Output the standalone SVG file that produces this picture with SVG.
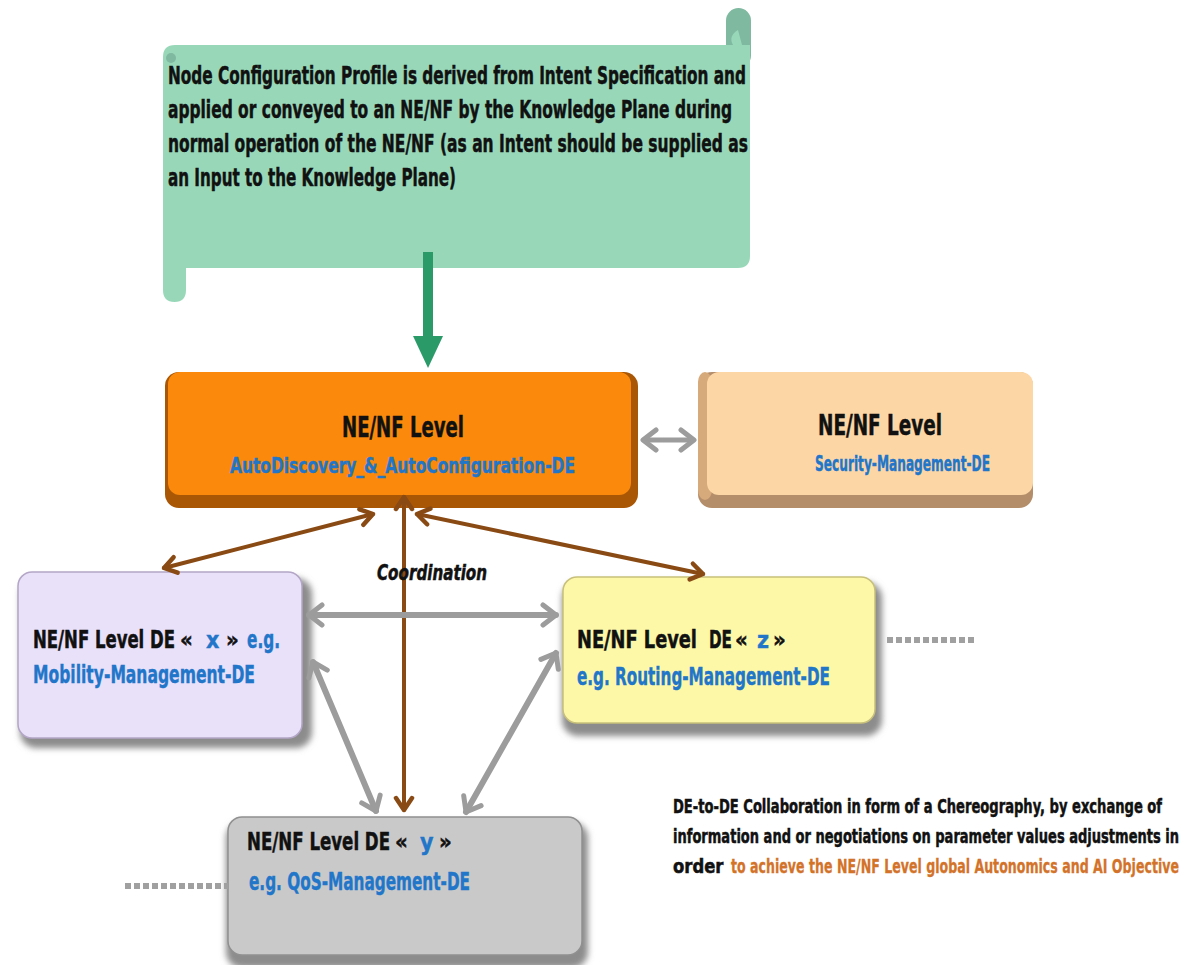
<svg xmlns="http://www.w3.org/2000/svg" width="1189" height="965" viewBox="0 0 1189 965">
  <defs>
    <style>
      .t { font-family: "Liberation Sans Narrow", "DejaVu Sans Condensed", "Liberation Sans", sans-serif; font-weight: bold; font-stretch: condensed; }
      .blk { fill: #111111; stroke: #111111; stroke-width: 0.5; }
      .blue { fill: #2176c9; stroke: #2176c9; stroke-width: 0.4; }
      .org { fill: #d3732a; stroke: #d3732a; stroke-width: 0.3; }
      .gray-line { stroke: #9c9c9c; stroke-width: 6; fill: none; stroke-linecap: round; }
      .brown-line { stroke: #8a4a14; stroke-width: 4; fill: none; stroke-linecap: round; }
      .dots { stroke: #a0a0a0; stroke-width: 6; stroke-dasharray: 6 3; fill: none; }
    </style>
    <marker id="grayHead" viewBox="0 0 22 26" refX="18" refY="13" markerWidth="22" markerHeight="26" markerUnits="userSpaceOnUse" orient="auto-start-reverse">
      <path d="M5,3 L18,13 L5,23" fill="none" stroke="#9c9c9c" stroke-width="5" stroke-linecap="round" stroke-linejoin="round"/>
    </marker>
    <marker id="brownHead" viewBox="0 0 20 22" refX="16" refY="11" markerWidth="20" markerHeight="22" markerUnits="userSpaceOnUse" orient="auto-start-reverse">
      <path d="M4,3 L16,11 L4,19" fill="none" stroke="#8a4a14" stroke-width="4.5" stroke-linecap="round" stroke-linejoin="round"/>
    </marker>
    <filter id="soft" x="-10%" y="-10%" width="130%" height="130%">
      <feGaussianBlur stdDeviation="3"/>
    </filter>
  </defs>

  <rect width="1189" height="965" fill="#ffffff"/>

  <!-- Scroll with the note on the node configuration profile -->
  <g id="scroll-note">
    <rect x="726" y="8" width="25" height="60" rx="12.5" fill="#7fb9a0"/>
    <path d="M163,57 Q163,45 175,45 L750,45 L750,256 Q750,268 738,268 L186,268 L186,290 Q186,302 174.5,302 Q163,302 163,290 Z" fill="#98d8b9"/>
    <path d="M733,45 Q728,36 738,30 L742,45 Z" fill="#98d8b9"/>
    <circle cx="171" cy="58" r="5" fill="#7fb9a0"/>
    <text class="t blk" font-size="25" transform="translate(168,84) scale(0.70,1)" textLength="825.7" lengthAdjust="spacingAndGlyphs">Node Configuration Profile is derived from Intent Specification and</text>
    <text class="t blk" font-size="25" transform="translate(168,118) scale(0.70,1)" textLength="805.7" lengthAdjust="spacingAndGlyphs">applied or conveyed to an NE/NF by the Knowledge Plane during</text>
    <text class="t blk" font-size="25" transform="translate(168,152) scale(0.70,1)" textLength="828.6" lengthAdjust="spacingAndGlyphs">normal operation of the NE/NF (as an Intent should be supplied as</text>
    <text class="t blk" font-size="25" transform="translate(168,186) scale(0.70,1)" textLength="411.4" lengthAdjust="spacingAndGlyphs">an Input to the Knowledge Plane)</text>
  </g>

  <!-- AutoDiscovery & AutoConfiguration DE -->
  <g id="node-autoconfig">
    <rect x="165" y="372" width="473" height="136" rx="14" fill="#a95605"/>
    <rect x="168" y="372" width="463" height="123" rx="12" fill="#fb8a0c"/>
    <text class="t blk" font-size="29" transform="translate(342,437) scale(0.75,1)" textLength="162.7" lengthAdjust="spacingAndGlyphs">NE/NF Level</text>
    <text class="t blue" font-size="21" transform="translate(230,473) scale(0.75,1)" textLength="460" lengthAdjust="spacingAndGlyphs">AutoDiscovery_&amp;_AutoConfiguration-DE</text>
  </g>

  <!-- Security Management DE -->
  <g id="node-security">
    <rect x="698" y="372" width="335" height="136" rx="14" fill="#b48d6a"/>
    <rect x="698" y="372" width="14" height="128" rx="10" fill="#d7aa7c"/>
    <rect x="707" y="372" width="326" height="123" rx="12" fill="#fdd6a6"/>
    <text class="t blk" font-size="29" transform="translate(818,435) scale(0.75,1)" textLength="165.3" lengthAdjust="spacingAndGlyphs">NE/NF Level</text>
    <text class="t blue" font-size="21" transform="translate(815,471) scale(0.75,1)" textLength="233.3" lengthAdjust="spacingAndGlyphs">Security-Management-DE</text>
  </g>

  <!-- DE x : Mobility Management -->
  <g id="node-x">
    <rect x="20" y="578" width="292" height="170" rx="16" fill="#8c8c8c" filter="url(#soft)"/>
    <rect x="18" y="572" width="284" height="166" rx="14" fill="#e9e0fa" stroke="#b3a6c6" stroke-width="1.5"/>
    <text class="t blk" font-size="25" transform="translate(33,648) scale(0.75,1)" textLength="189.3" lengthAdjust="spacingAndGlyphs">NE/NF Level DE</text>
    <text class="t blk" font-size="22" x="180" y="647">«</text>
    <text class="t blue" font-size="23" x="206" y="648">x</text>
    <text class="t blk" font-size="22" x="226" y="647">»</text>
    <text class="t blue" font-size="25" transform="translate(247,648) scale(0.72,1)" textLength="45.8" lengthAdjust="spacingAndGlyphs">e.g.</text>
    <text class="t blue" font-size="25" transform="translate(33,683) scale(0.75,1)" textLength="296" lengthAdjust="spacingAndGlyphs">Mobility-Management-DE</text>
  </g>

  <!-- DE z : Routing Management -->
  <g id="node-z">
    <rect x="562" y="582" width="320" height="154" rx="16" fill="#8c8c8c" filter="url(#soft)"/>
    <rect x="563" y="577" width="312" height="146" rx="14" fill="#fdf8a8" stroke="#c8c07a" stroke-width="1.5"/>
    <text class="t blk" font-size="25" transform="translate(577,648) scale(0.78,1)" textLength="153.8" lengthAdjust="spacingAndGlyphs">NE/NF Level</text>
    <text class="t blk" font-size="25" transform="translate(709,648) scale(0.72,1)" textLength="31.9" lengthAdjust="spacingAndGlyphs">DE</text>
    <text class="t blk" font-size="22" x="735" y="647">«</text>
    <text class="t blue" font-size="23" x="757" y="648">z</text>
    <text class="t blk" font-size="22" x="773" y="647">»</text>
    <text class="t blue" font-size="25" transform="translate(577,685) scale(0.75,1)" textLength="337.3" lengthAdjust="spacingAndGlyphs">e.g. Routing-Management-DE</text>
  </g>

  <!-- DE y : QoS Management -->
  <g id="node-y">
    <rect x="226" y="822" width="362" height="146" rx="16" fill="#8c8c8c" filter="url(#soft)"/>
    <rect x="228" y="817" width="354" height="138" rx="14" fill="#c9c9c9" stroke="#909090" stroke-width="1.5"/>
    <text class="t blk" font-size="25" transform="translate(247,850) scale(0.75,1)" textLength="190.7" lengthAdjust="spacingAndGlyphs">NE/NF Level DE</text>
    <text class="t blk" font-size="22" x="395" y="849">«</text>
    <text class="t blue" font-size="23" x="420" y="850">y</text>
    <text class="t blk" font-size="22" x="439" y="849">»</text>
    <text class="t blue" font-size="25" transform="translate(249,890) scale(0.75,1)" textLength="294.7" lengthAdjust="spacingAndGlyphs">e.g. QoS-Management-DE</text>
  </g>

  <!-- Collaboration note -->
  <g id="collab-note">
    <text class="t blk" font-size="20" transform="translate(673,813) scale(0.72,1)" textLength="679.2" lengthAdjust="spacingAndGlyphs">DE-to-DE  Collaboration in form of a Chereography, by exchange of</text>
    <text class="t blk" font-size="20" transform="translate(673,843) scale(0.72,1)" textLength="702.8" lengthAdjust="spacingAndGlyphs">information  and or negotiations  on parameter values  adjustments in</text>
    <text class="t blk" font-size="20" transform="translate(673,873) scale(0.72,1)" textLength="70" lengthAdjust="spacingAndGlyphs">order</text>
    <text class="t org" font-size="20" transform="translate(731,873) scale(0.70,1)" textLength="640" lengthAdjust="spacingAndGlyphs">to achieve the NE/NF Level global Autonomics and AI Objective</text>
  </g>

  <!-- Connectors -->
  <g id="connectors">
    <!-- intent input into the AutoConfiguration DE -->
    <rect x="423" y="252" width="10" height="86" fill="#2b9a69"/>
    <polygon points="413,336 443,336 428,368" fill="#2b9a69"/>

    <!-- peer link to Security DE -->
    <line x1="643" y1="440" x2="694" y2="440" stroke="#9c9c9c" stroke-width="5" marker-start="url(#grayHead)" marker-end="url(#grayHead)"/>

    <!-- coordination links -->
    <line class="brown-line" x1="373" y1="514" x2="164" y2="568" marker-start="url(#brownHead)" marker-end="url(#brownHead)"/>
    <line class="brown-line" x1="417" y1="514" x2="703" y2="574" marker-start="url(#brownHead)" marker-end="url(#brownHead)"/>
    <line class="brown-line" stroke-width="3" x1="404" y1="497" x2="404" y2="810" marker-start="url(#brownHead)" marker-end="url(#brownHead)"/>
    <text class="t blk" font-size="21" font-style="italic" transform="translate(377,580) scale(0.75,1)" textLength="146.7" lengthAdjust="spacingAndGlyphs">Coordination</text>

    <!-- DE-to-DE collaboration links -->
    <line class="gray-line" x1="309" y1="615" x2="556" y2="615" marker-start="url(#grayHead)" marker-end="url(#grayHead)"/>
    <line class="gray-line" stroke-width="5" x1="313" y1="662" x2="376" y2="811" marker-start="url(#grayHead)" marker-end="url(#grayHead)"/>
    <line class="gray-line" stroke-width="5" x1="556" y1="653" x2="466" y2="812" marker-start="url(#grayHead)" marker-end="url(#grayHead)"/>

    <!-- continuation to further DEs -->
    <line class="dots" x1="887" y1="640" x2="976" y2="640"/>
    <line class="dots" x1="125" y1="886" x2="228" y2="886"/>
  </g>
</svg>
